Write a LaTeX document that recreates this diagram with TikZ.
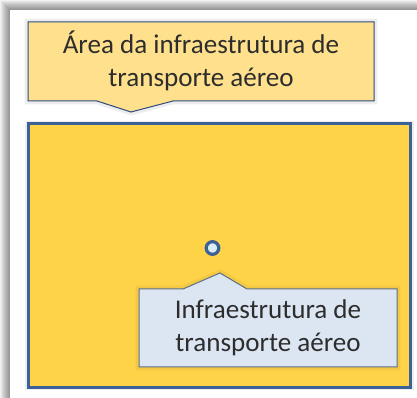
\documentclass[tikz,border=0pt]{standalone}
\usepackage{fontspec}
\setmainfont{Carlito}
\usepackage{tikz}
\usetikzlibrary{shadows}

\definecolor{calloutYellow}{RGB}{255,224,140}
\definecolor{areaYellow}{RGB}{255,211,72}
\definecolor{areaBlue}{RGB}{60,97,151}
\definecolor{navyLine}{RGB}{47,74,128}
\definecolor{calloutBlue}{RGB}{220,230,242}
\definecolor{grayBlue}{RGB}{95,110,135}
\definecolor{pointFill}{RGB}{218,238,243}
\definecolor{textGray}{RGB}{45,45,45}

\tikzset{
  glow/.style={draw=black, draw opacity=0.07, line width=5},
  calloutText/.style={align=center, text=textGray, inner sep=0.75pt,
    font=\fontsize{20.3pt}{24.8pt}\selectfont},
}

\begin{document}
\begin{tikzpicture}[x=0.75pt,y=0.75pt,yscale=-1,xscale=1]
\useasboundingbox (0,0) rectangle (417,398);

%Shadow of the panel
\foreach \d in {0,...,9}
  \fill [black, opacity=0.05] (\d,\d) rectangle (417,398);
%Shape: Panel
\fill [white] (10,10) rectangle (417,398);

%Shape: Area rectangle
\draw [glow] (28.5,124) rectangle (410.5,387);
\draw [draw=areaBlue, fill=areaYellow, line width=2.25] (28.5,124) rectangle (410.5,387);

%Shape: Callout (area)
\draw [glow] (28,22) -- (374,22) -- (374,101) -- (173,101) -- (131,112) -- (97,101) -- (28,101) -- cycle;
\draw [draw=navyLine, fill=calloutYellow, line width=0.75] (28,22) -- (374,22) -- (374,101) -- (173,101) -- (131,112) -- (97,101) -- (28,101) -- cycle;

%Shape: Callout (infrastructure)
\draw [glow, draw opacity=0.05] (139,289) -- (183,289) -- (220,273) -- (247,289) -- (397,289) -- (397,367) -- (139,367) -- cycle;
\draw [draw=grayBlue, fill=calloutBlue, line width=0.75] (139,289) -- (183,289) -- (220,273) -- (247,289) -- (397,289) -- (397,367) -- (139,367) -- cycle;

%Shape: Circle
\node (airport) [circle, draw=areaBlue, fill=pointFill, line width=2.4, minimum size=9.5, inner sep=0pt] at (212.5,248) {};

% Text Node
\node (areaText) [calloutText] at (201,61) {Área da infraestrutura de\\transporte aéreo};
% Text Node
\node (airportText) [calloutText] at (268,328) {Infraestrutura de\\transporte aéreo};

\end{tikzpicture}
\end{document}
